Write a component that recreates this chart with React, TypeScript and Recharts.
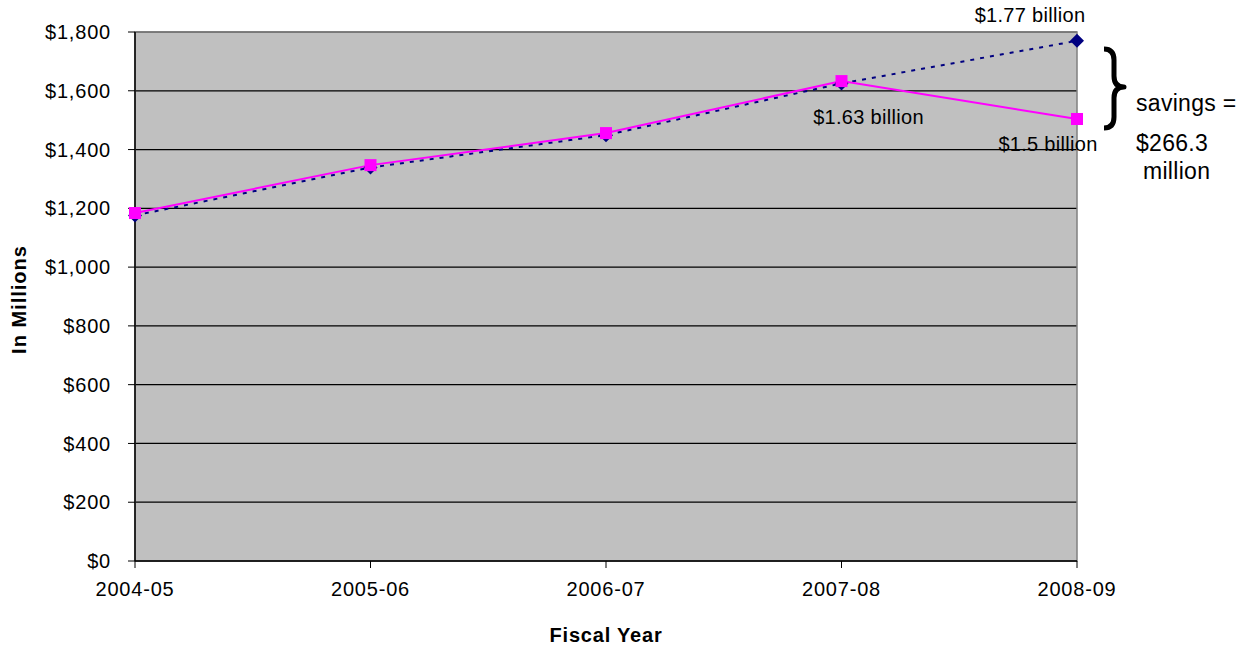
import React from 'react';
import { LineChart, Line, XAxis, YAxis, CartesianGrid, ReferenceArea, ReferenceDot, LabelList, Label } from 'recharts';

const years = ['2004-05', '2005-06', '2006-07', '2007-08', '2008-09'];
const projected = [1176, 1339, 1449, 1625, 1770];
const actual = [1184, 1347, 1456, 1633, 1504];
const projectedLabels = ['', '', '', '', '$1.77 billion'];
const actualLabels = ['', '', '', '$1.63 billion', '$1.5 billion'];
const yTicks = [0, 200, 400, 600, 800, 1000, 1200, 1400, 1600, 1800];
const savingsLines = ['savings =', '$266.3', 'million'];
const bracePoint = { year: '2008-09', value: 1620 };

const data = years.map((y, i) => ({ year: y, projected: projected[i], actual: actual[i], pl: projectedLabels[i], al: actualLabels[i] }));

const FONT = 'Liberation Sans, Arial, sans-serif';

const Diamond = (props: any) => {
  const { cx, cy } = props;
  if (cx == null || cy == null) return null;
  const r = 7;
  return <path d={`M${cx} ${cy - r} L${cx + r} ${cy} L${cx} ${cy + r} L${cx - r} ${cy} Z`} fill="#000080" />;
};

const Square = (props: any) => {
  const { cx, cy } = props;
  if (cx == null || cy == null) return null;
  return <rect x={cx - 6} y={cy - 6} width={12} height={12} fill="#FF00FF" />;
};

const txt = { fontSize: 20, fontFamily: FONT, fill: '#000', letterSpacing: 0.3 } as any;
const bigTxt = { fontSize: 23, fontFamily: FONT, fill: '#000', letterSpacing: 0.3 } as any;

const projLabel = (props: any) => {
  const { x, y, value } = props;
  if (!value) return null;
  return <text x={x - 47} y={y - 26} textAnchor="middle" dominantBaseline="central" style={txt}>{value}</text>;
};

const actLabel = (props: any) => {
  const { x, y, value, index } = props;
  if (!value) return null;
  const dx = index === 4 ? -29 : 27;
  const dy = index === 4 ? 25 : 36;
  return <text x={x + dx} y={y + dy} textAnchor="middle" dominantBaseline="central" style={txt}>{value}</text>;
};

const Brace = (props: any) => {
  const { cx, cy } = props;
  if (cx == null || cy == null) return null;
  const x0 = cx + 27;
  const top = cy - 36;
  const bot = cy + 43;
  const mid = cy + 2;
  const xm = x0 + 10;
  const d = `M${x0} ${top} Q${xm} ${top} ${xm} ${top + 11} L${xm} ${mid - 11} Q${xm} ${mid} ${x0 + 20} ${mid} Q${xm} ${mid} ${xm} ${mid + 11} L${xm} ${bot - 11} Q${xm} ${bot} ${x0} ${bot}`;
  return (
    <g>
      <path d={d} fill="none" stroke="#000" strokeWidth={5} strokeLinejoin="round" />
      <text x={cx + 59} y={cy + 18} dominantBaseline="central" style={bigTxt}>{savingsLines[0]}</text>
      <text x={cx + 59} y={cy + 58} dominantBaseline="central" style={bigTxt}>{savingsLines[1]}</text>
      <text x={cx + 66} y={cy + 86} dominantBaseline="central" style={bigTxt}>{savingsLines[2]}</text>
    </g>
  );
};

const YLabel = (props: any) => {
  const vb = props.viewBox || {};
  const cy = vb.y + vb.height / 2 + 3;
  return <text x={19} y={cy} transform={`rotate(-90 19 ${cy})`} textAnchor="middle" dominantBaseline="central" fontSize={20} fontWeight="bold" fontFamily={FONT} fill="#000" letterSpacing={1}>In Millions</text>;
};

export default function App() {
  return (
    <div style={{ position: 'absolute', left: 0, top: 0, width: 1250, height: 647, background: '#fff' }}>
      <LineChart width={1250} height={647} data={data} margin={{ top: 32, right: 173, bottom: 0, left: 0 }}>
        <CartesianGrid vertical={false} stroke="#000" strokeWidth={1.2} fill="#C0C0C0" fillOpacity={1} />
        <ReferenceArea x1="2004-05" x2="2008-09" y1={0} y2={1800} fill="none" stroke="#808080" strokeWidth={1.5} />
        <XAxis dataKey="year" height={86} axisLine={{ stroke: '#000', strokeWidth: 1.5 }} tickLine={{ stroke: '#000' }} tickSize={7} tickMargin={14}
          tick={{ fontSize: 20, fontFamily: FONT, fill: '#000', letterSpacing: 0.8 }} interval={0}>
          <Label value="Fiscal Year" position="insideBottom" offset={5} style={{ fontSize: 20, fontWeight: 'bold', fontFamily: FONT, fill: '#000', letterSpacing: 0.8 }} />
        </XAxis>
        <YAxis width={135} domain={[0, 1800]} ticks={yTicks} interval={0} axisLine={{ stroke: '#000', strokeWidth: 1.5 }} tickLine={{ stroke: '#000' }} tickSize={7} tickMargin={17}
          tick={{ fontSize: 20, fontFamily: FONT, fill: '#000', letterSpacing: 0.8 }} tickFormatter={(v: number) => `$${v.toLocaleString('en-US')}`}>
          <Label content={YLabel} />
        </YAxis>
        <Line dataKey="projected" stroke="#000080" strokeWidth={2} strokeDasharray="4 6" dot={<Diamond />} isAnimationActive={false}>
          <LabelList dataKey="pl" content={projLabel} />
        </Line>
        <Line dataKey="actual" stroke="#FF00FF" strokeWidth={2} dot={<Square />} isAnimationActive={false}>
          <LabelList dataKey="al" content={actLabel} />
        </Line>
        <ReferenceDot x={bracePoint.year} y={bracePoint.value} r={0} shape={<Brace />} ifOverflow="visible" />
      </LineChart>
    </div>
  );
}
